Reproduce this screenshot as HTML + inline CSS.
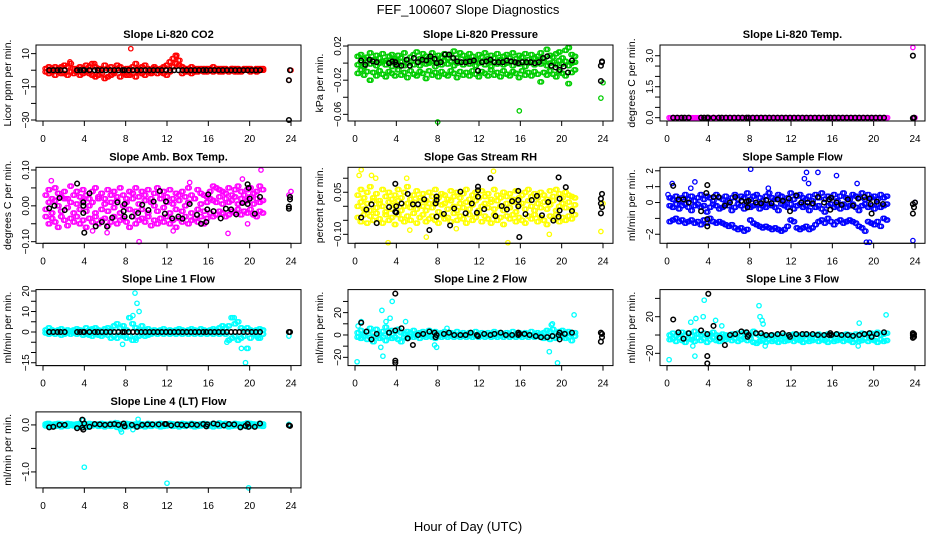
<!DOCTYPE html>
<html><head><meta charset="utf-8"><style>
html,body{margin:0;padding:0;background:#fff}
svg{display:block;font-family:"Liberation Sans",sans-serif}
</style></head><body>
<svg id="chart" width="936" height="540" viewBox="0 0 936 540" xmlns="http://www.w3.org/2000/svg">
<rect width="936" height="540" fill="#fff"/>
<text x="468" y="14" font-size="13" text-anchor="middle">FEF_100607  Slope Diagnostics</text>
<text x="468" y="531" font-size="13" text-anchor="middle">Hour of Day (UTC)</text>
</svg>
<script>
const xTicks=[0,4,8,12,16,20,24];
const T=[0.2,0.5,0.8,1.1,1.4,1.7,2.0,2.3,2.6,2.9,3.2,3.5,3.8,4.1,4.4,4.7,5.0,5.3,5.6,5.9,6.2,6.5,6.8,7.1,7.4,7.7,8.0,8.3,8.6,8.9,9.2,9.5,9.8,10.1,10.4,10.7,11.0,11.3,11.6,11.9,12.2,12.5,12.8,13.1,13.4,13.7,14.0,14.3,14.6,14.9,15.2,15.5,15.8,16.1,16.4,16.7,17.0,17.3,17.6,17.9,18.2,18.5,18.8,19.1,19.4,19.7,20.0,20.3,20.6,20.9,21.2];
const B=[0.6,1.0,1.4,1.7,2.1,3.3,3.6,3.9,4.0,4.5,5.0,5.3,5.7,6.1,6.5,6.9,7.3,7.7,7.9,8.3,8.7,9.1,9.5,9.9,10.3,10.7,11.1,11.5,11.9,12.3,12.7,13.1,13.5,13.9,14.3,14.7,15.1,15.5,15.8,16.2,16.6,17.0,17.4,17.8,18.2,18.6,19.0,19.4,19.8,20.2,20.6,21.0];
const zeroB=[0,0,0,0,0,0,0,0,0,0,0,0,0,0,0,0,0,0,0,0,0,0,0,0,0,0,0,0,0,0,0,0,0,0,0,0,0,0,0,0,0,0,0,0,0,0,0,0,0,0,0,0];
const zeroT=[0,0,0,0,0,0,0,0,0,0,0,0,0,0,0,0,0,0,0,0,0,0,0,0,0,0,0,0,0,0,0,0,0,0,0,0,0,0,0,0,0,0,0,0,0,0,0,0,0,0,0,0,0,0,0,0,0,0,0,0,0,0,0,0,0,0,0,0,0,0,0];

const co2A=[1,2,-1,2,1,-2,3,2,4,1,-1,2,1,3,-2,4,2,-3,1,3,-4,2,-1,3,2,-2,1,-3,2,4,1,-2,3,1,-1,2,0,1,-2,3,5,7,9,3,2,-1,1,2,-1,1,0,1,-1,1,2,0,1,-1,1,0,1,1,-1,0,1,0,1,0,1,0,1];
const co2B=[-1,-2,1,-3,-1,2,-2,-3,-1,-2,1,-3,-2,-1,2,-3,-4,1,-2,-5,1,-3,-2,1,-4,-1,-3,1,-2,-4,-1,2,-3,-1,-2,1,-2,-1,2,-3,-1,2,4,6,-2,1,-1,-2,1,-1,1,-1,1,0,-1,1,-1,1,0,-1,1,-1,1,-1,0,1,-1,0,-1,1,0];
const co2ExX=[8.5,23.8,24.0,12.9,2.6,5.0];
const co2ExY=[13,-6,0,8,5,4];
const co2KtX=[23.8,23.8,23.9];
const co2KtY=[-30,-6,0];

const prA=[0.008,0.01,0.005,0.007,0.012,0.004,0.009,0.006,0.011,0.003,0.008,0.01,0.005,0.009,0.006,0.012,0.004,0.007,0.01,0.013,0.005,0.011,0.008,0.006,0.012,0.004,0.009,0.007,0.011,0.005,0.01,0.014,0.006,0.012,0.009,0.005,0.011,0.008,0.004,0.01,0.007,0.012,0.005,0.009,0.006,0.011,0.004,0.008,0.01,0.006,0.012,0.005,0.009,0.007,0.011,0.004,0.01,0.006,0.008,0.012,0.005,0.016,0.009,0.007,0.011,0.013,0.006,0.015,0.018,0.01,0.008];
const prB=[-0.002,0.001,-0.004,0.002,-0.001,0.003,-0.003,0,0.002,-0.002,0.001,-0.004,0.003,-0.001,0.002,-0.003,0,0.002,-0.002,0.001,-0.003,0.003,-0.001,0,0.002,-0.004,0.001,-0.002,0.003,-0.001,0.002,-0.003,0,0.001,-0.002,0.003,-0.001,0.002,-0.003,0,0.001,-0.002,0.002,-0.004,0.001,-0.001,0.003,-0.002,0,0.002,-0.003,0.001,-0.001,0.002,-0.004,0,0.001,-0.002,0.003,-0.001,0.002,-0.003,0,0.001,-0.002,0.003,-0.001,0.002,-0.003,0,0.001];
const prC=[-0.012,-0.008,-0.014,-0.01,-0.02,-0.011,-0.015,-0.009,-0.013,-0.016,-0.01,-0.012,-0.015,-0.008,-0.014,-0.011,-0.017,-0.009,-0.013,-0.015,-0.01,-0.012,-0.018,-0.009,-0.014,-0.011,-0.016,-0.01,-0.013,-0.015,-0.009,-0.012,-0.017,-0.01,-0.014,-0.011,-0.015,-0.009,-0.013,-0.016,-0.01,-0.012,-0.015,-0.008,-0.014,-0.011,-0.016,-0.009,-0.013,-0.015,-0.01,-0.012,-0.017,-0.009,-0.014,-0.011,-0.015,-0.01,-0.013,-0.022,-0.011,-0.014,-0.009,-0.013,-0.016,-0.01,-0.012,-0.015,-0.024,-0.011,-0.008];
const prExX=[1.4,8.0,15.9,23.8,24.0];
const prExY=[-0.02,-0.069,-0.056,-0.041,-0.023];
const prKY=[0.003,-0.002,0.004,0.002,0.001,0,0.002,0.001,-0.002,-0.003,0.004,-0.003,0.006,0.001,0.004,0.003,0.008,0.005,0,0.001,0.01,0.01,0.006,0.002,0.001,0.001,0.002,0.003,-0.009,0.001,0.002,0.004,0.001,0.001,0.001,0.003,0.002,0.001,0,0.001,0.001,0.001,0,0.001,0.006,0.008,-0.003,-0.005,-0.008,-0.004,-0.011,0.003];
const prKtX=[23.8,23.9,23.8,23.9];
const prKtY=[-0.003,0.002,-0.021,0.001];

const tpExX=[23.8,24.0];
const tpExY=[3.4,0];
const tpKtX=[23.8,23.8,23.9];
const tpKtY=[3.0,-0.02,0];

const abA=[0.03,0.045,0.02,0.05,0.035,0.025,0.04,0.02,0.055,0.03,0.04,0.025,0.045,0.03,0.02,0.04,0.05,0.025,0.035,0.02,0.045,0.03,0.04,0.025,0.05,0.03,0.02,0.04,0.035,0.05,0.025,0.04,0.03,0.045,0.02,0.035,0.05,0.03,0.04,0.025,0.045,0.02,0.035,0.03,0.04,0.025,0.05,0.03,0.02,0.045,0.035,0.03,0.025,0.04,0.055,0.05,0.045,0.04,0.035,0.05,0.03,0.045,0.055,0.04,0.03,0.045,0.05,0.035,0.04,0.055,0.045];
const abB=[-0.01,0.01,-0.02,0.015,0,-0.015,0.02,-0.005,0.01,-0.02,0.005,-0.01,0.015,-0.015,0,0.01,-0.02,0.02,-0.01,0.005,-0.015,0.01,-0.005,0.015,-0.02,0,0.01,-0.01,0.02,-0.015,0.005,-0.01,0.015,-0.02,0.01,0,-0.015,0.02,-0.005,0.01,-0.02,0.005,-0.01,0.015,-0.015,0,0.01,-0.02,0.02,-0.01,0.005,-0.015,0.01,0.02,0.015,0.01,0.025,0.005,0.02,0.01,0.015,0.025,0.005,0.02,0.01,0.015,0.025,0.005,0.02,0.01,0.015];
const abC=[-0.03,-0.05,-0.035,-0.045,-0.06,-0.03,-0.04,-0.055,-0.035,-0.045,-0.03,-0.05,-0.04,-0.06,-0.035,-0.045,-0.03,-0.05,-0.04,-0.035,-0.055,-0.045,-0.03,-0.05,-0.04,-0.035,-0.045,-0.06,-0.03,-0.05,-0.04,-0.035,-0.045,-0.03,-0.055,-0.04,-0.05,-0.035,-0.045,-0.03,-0.05,-0.04,-0.06,-0.035,-0.045,-0.03,-0.05,-0.04,-0.035,-0.045,-0.03,-0.05,-0.035,-0.02,-0.03,-0.025,-0.015,-0.02,-0.03,-0.025,-0.015,-0.02,-0.01,-0.025,-0.015,-0.02,-0.01,-0.025,-0.03,-0.015,-0.02];
const abExX=[0.8,4.8,6.2,9.3,12.6,14.2,17.9,19.3,19.8,21.1,23.8,24.0];
const abExY=[0.07,-0.07,-0.075,-0.1,-0.07,0.065,-0.077,0.075,-0.05,0.1,0.03,0.04];
const abKX=[0.6,1.1,1.6,2.1,3.3,3.9,3.9,3.9,4.0,4.5,5.1,5.7,6.2,6.7,7.2,7.8,7.9,7.9,8.6,9.2,9.6,10.2,10.7,11.3,11.8,11.9,12.5,13.1,13.5,14.2,14.9,15.3,15.8,15.9,16.0,16.5,17.2,17.7,18.2,18.7,19.3,19.8,19.8,19.9,20.0,20.5,21.0,23.8,23.8,23.9,23.9];
const abKY=[-0.007,0,0.022,-0.012,0.062,0.01,0,-0.02,-0.075,0.035,-0.057,-0.045,-0.058,-0.033,0.01,-0.015,0.005,-0.03,-0.03,-0.02,0.003,-0.012,0.012,0.041,-0.022,0.012,-0.035,-0.03,-0.036,0.005,-0.025,-0.05,-0.045,-0.01,0.032,-0.015,-0.035,-0.008,-0.01,-0.024,0.008,0.005,0.06,0.05,0.02,-0.022,0.025,-0.008,-0.002,0.025,0.018];

const rhA=[0.04,0.06,0.03,0.05,0.07,0.03,0.045,0.02,0.06,0.035,0.05,0.025,0.04,0.06,0.03,0.05,0.07,0.025,0.04,0.055,0.03,0.045,0.02,0.05,0.035,0.06,0.03,0.045,0.04,0.025,0.055,0.035,0.05,0.03,0.045,0.06,0.025,0.04,0.05,0.03,0.055,0.035,0.045,0.025,0.06,0.04,0.03,0.05,0.035,0.045,0.025,0.055,0.03,0.04,0.05,0.06,0.035,0.045,0.03,0.05,0.04,0.025,0.055,0.035,0.06,0.045,0.03,0.05,0.04,0.035,0.03];
const rhB=[0,0.015,-0.01,0.01,-0.015,0.02,-0.005,0.01,0,-0.02,0.015,-0.01,0.005,0.02,-0.015,0,0.01,-0.005,0.015,-0.01,0.02,0,-0.015,0.01,-0.005,0.015,-0.02,0.005,0.01,-0.01,0.02,0,-0.015,0.01,-0.005,0.015,-0.01,0.005,0.02,-0.015,0,0.01,-0.005,0.015,-0.01,0.02,0,-0.015,0.01,-0.005,0.015,-0.02,0.005,0.01,-0.01,0.02,0,-0.015,0.01,-0.005,0.015,-0.01,0.005,0.02,-0.015,0,0.01,-0.005,0.015,-0.01,0.005];
const rhC=[-0.04,-0.055,-0.03,-0.06,-0.035,-0.05,-0.025,-0.045,-0.06,-0.03,-0.05,-0.04,-0.065,-0.03,-0.045,-0.055,-0.035,-0.05,-0.025,-0.06,-0.04,-0.03,-0.055,-0.045,-0.035,-0.05,-0.06,-0.03,-0.045,-0.04,-0.055,-0.025,-0.05,-0.035,-0.045,-0.06,-0.03,-0.05,-0.04,-0.025,-0.055,-0.035,-0.045,-0.06,-0.03,-0.05,-0.04,-0.065,-0.035,-0.045,-0.03,-0.055,-0.04,-0.05,-0.06,-0.035,-0.045,-0.03,-0.055,-0.04,-0.05,-0.065,-0.035,-0.045,-0.03,-0.055,-0.04,-0.05,-0.035,-0.045,-0.03];
const rhExX=[0.6,1.6,3.2,5.3,6.9,13.4,14.8,18.8,23.8,24.0,0.4,5.0,9.8,2.0];
const rhExY=[0.13,0.11,-0.13,-0.085,-0.11,0.125,-0.13,-0.1,-0.09,0.01,0.11,0.1,-0.08,0.1];
const rhKX=[0.6,1.1,1.6,2.1,3.3,3.9,3.9,4.0,4.0,4.5,5.1,5.6,6.1,6.7,7.2,7.8,7.9,7.9,7.9,8.6,9.2,9.6,10.2,10.7,11.3,11.8,11.9,11.9,11.9,12.5,13.1,13.6,14.2,14.7,15.2,15.8,15.8,15.8,15.9,16.5,17.1,17.6,18.1,18.7,19.2,19.7,19.8,19.8,19.7,20.4,21.0,23.8,23.8,23.9,23.8,23.9];
const rhKY=[-0.04,-0.012,0.007,-0.06,-0.003,0.08,-0.02,-0.022,0,0.01,0.044,0.007,0.007,0.025,-0.085,0.01,0.035,0.022,-0.037,-0.027,-0.068,-0.008,0.052,-0.025,0.01,-0.023,0.057,0.07,0.034,-0.01,0.1,-0.035,0.001,-0.011,0.018,0.055,0.022,0,-0.11,-0.028,0.022,0.037,-0.032,0.015,-0.051,0.103,0.027,-0.015,-0.037,0.068,-0.017,0.027,0.01,-0.003,-0.025,0.044];

const sfA=[0.3,0.2,0.4,0.1,0.3,0.5,0.2,0.4,0.1,0.3,0.5,0.2,0.4,0.3,0.1,0.5,0.3,0.2,0.4,0.1,0.3,0.5,0.2,0.4,0.3,0.6,0.2,0.4,0.5,0.3,0.1,0.4,0.6,0.3,0.2,0.5,0.4,0.1,0.3,0.6,0.2,0.4,0.5,0.3,0.2,0.4,0.1,0.5,0.3,0.6,0.2,0.4,0.3,0.5,0.1,0.4,0.6,0.3,0.2,0.5,0.4,0.3,0.6,0.2,0.5,0.3,0.4,0.2,0.5,0.3,0.4];
const sfB=[-0.2,-0.3,-0.1,-0.4,-0.2,-0.1,-0.3,-0.5,-0.2,-0.1,-0.3,-0.2,-0.6,-0.3,-0.1,-0.2,-0.4,-0.3,-0.1,-0.2,-0.5,-0.3,-0.1,-0.2,-0.4,-0.1,-0.3,-0.2,-0.1,-0.4,-0.2,-0.3,-0.1,-0.2,-0.3,-0.5,-0.1,-0.2,-0.3,-0.1,-0.4,-0.2,-0.1,-0.3,-0.2,-0.5,-0.1,-0.3,-0.2,-0.4,-0.6,-0.2,-0.1,-0.3,-0.2,-0.4,-0.1,-0.3,-0.2,-0.1,-0.3,-0.5,-0.2,-0.1,-0.3,-0.2,-0.4,-0.1,-0.3,-0.2,-0.1];
const sfC=[-1.2,-1.1,-1.0,-1.2,-1.1,-1.3,-1.2,-1.1,-1.3,-1.2,-1.4,-1.1,-1.3,-1.0,-1.2,-1.3,-1.2,-1.3,-1.4,-1.5,-1.4,-1.6,-1.7,-1.6,-1.8,-1.7,-1.1,-1.3,-1.4,-1.5,-1.6,-1.5,-1.6,-1.7,-1.6,-1.7,-1.8,-1.7,-1.5,-1.1,-1.2,-1.6,-1.7,-1.6,-1.5,-1.7,-1.6,-1.4,-1.2,-1.1,-1.3,-1.0,-1.2,-1.4,-1.2,-1.1,-1.3,-1.2,-1.1,-1.2,-1.3,-1.5,-1.6,-1.8,-1.2,-1.3,-1.4,-1.2,-1.5,-1.0,-1.1];
const sfExX=[0.1,0.5,2.7,2.3,8.1,9.8,13.3,13.5,13.7,14.6,16.4,18.4,19.3,19.6,23.8,24.0];
const sfExY=[0.5,1.2,1.3,0.9,2.1,0.9,1.5,1.9,1.2,1.9,1.7,1.2,-2.5,-2.5,-2.4,0];
const sfKX=[0.6,1.1,1.6,2.1,3.3,3.8,3.9,3.9,3.9,4.5,5.0,5.6,6.1,6.6,7.2,7.7,7.8,7.9,8.6,9.1,9.6,10.1,10.7,11.2,11.8,11.9,12.5,13.0,13.6,14.1,14.6,15.2,15.7,15.8,15.9,16.4,16.9,17.5,18.0,18.5,19.1,19.6,19.7,19.8,20.3,20.9,23.8,23.8,23.9,24.0];
const sfKY=[1.05,0.2,0.2,0,-0.55,0.6,1.1,-1.05,-1.5,0.35,0.35,-0.2,0,0.35,0.1,0.05,-0.3,0.1,0,-0.05,0.15,-0.05,0.2,0.1,0.25,-0.55,0.45,0,0,-0.05,0.35,0,0.2,-0.45,0.3,0,-0.15,0.2,-0.2,0.25,0.35,0.25,-0.1,-0.7,0.05,-0.1,-0.1,-0.7,-0.3,0];

const l1A=[1,2,1,0.5,1,1.5,0.5,1,0.5,1,1.5,1,0.5,2,1,1.5,2,1,0.5,1.5,2,1,3,4,2,3,1,7,4,2,1,3,1,1.5,0.5,1,0.5,1,1.5,0.5,1,0.5,1,1.5,1,0.5,1,1.5,1,0.5,1.5,1,0.5,1,1.5,1,2,3,2,3,7,4,5,2,1,2,1,0.5,1,1.5,1];
const l1B=[-0.5,-1,-0.5,-1,-0.5,-1.5,-1,-0.5,-1,-0.5,-1,-0.5,-1.5,-1,-1.5,-2,-1,-1.5,-2,-1,-1.5,-3,-2,-3,-1.5,-2,-3,-2,-4,-3,-2,-1,-2,-1.5,-1,-0.5,-1,-0.5,-1,-0.5,-1,-0.5,-1,-0.5,-1,-0.5,-1,-0.5,-1,-0.5,-1,-0.5,-1,-0.5,-1,-0.5,-1,-0.5,-1,-4,-3,-2,-4,-3,-2,-8,-3,-1,-2,-3,-1];
const l1ExX=[7.7,8.9,9.1,9.3,8.7,9.0,19.6,19.2,17.8,18.5,20.8,23.8];
const l1ExY=[-6,19,14,10,8,-4,-15,-8,-5,7,-3,-2];
const l1KtX=[23.8,23.9];
const l1KtY=[0,0];

const l2A=[2,4,1,3,6,2,5,1,3,7,2,4,3,5,2,1,3,2,4,1,2,3,1,4,2,3,1,2,3,1,2,1,3,1,2,1,2,1,3,1,2,1,2,1,3,1,2,1,2,1,3,1,2,1,2,1,3,1,2,1,2,4,3,5,2,3,4,2,3,1,2];
const l2B=[-2,-3,-1,-4,-2,-6,-1,-3,-2,-5,-1,-3,-2,-4,-6,-2,-3,-1,-2,-1,-3,-1,-2,-1,-2,-3,-1,-2,-1,-2,-1,-2,-1,-2,-1,-2,-1,-2,-1,-2,-1,-2,-1,-2,-1,-2,-1,-2,-1,-2,-1,-2,-1,-2,-1,-2,-1,-2,-1,-2,-3,-2,-4,-1,-3,-2,-1,-3,-2,-5,-1];
const l2ExX=[0.2,0.6,2.5,2.6,2.7,3.0,3.4,3.6,4.9,7.7,7.9,8.9,18.8,19.0,19.1,19.6,21.2,0.3];
const l2ExY=[-24,12,-11,22,-19,12,15,30,12,-9,-11,6,-15,9,10,-25,18,8];
const l2KX=[0.6,1.1,1.6,2.1,3.3,3.9,3.9,3.9,3.9,4.5,5.1,5.6,6.1,6.6,7.2,7.7,7.8,7.9,8.6,9.1,9.6,10.2,10.7,11.2,11.8,11.9,12.5,13.1,13.5,14.1,14.6,15.2,15.8,15.8,15.9,16.4,16.9,17.5,18.0,18.6,19.1,19.7,19.8,19.8,20.3,21.0,23.8,23.9,23.8,23.9];
const l2KY=[11,3,-4,1,2,4,-23,-25,37,6,-3,-9,0,1,3,2,-2,0,1,2,0,0,0,2,0,-1,1,0,1,2,0,0,0,2,1,1,0,-1,-2,-2,-1,0,2,-4,1,2,2,-2,-6,1];

const l3A=[0,2,-1,1,3,0,2,-1,4,1,0,2,-1,1,3,0,-1,1,0,-2,1,0,2,-1,3,1,0,4,1,-1,0,-2,-1,0,-1,0,-2,0,-1,0,1,-1,0,-1,1,0,-1,0,1,-1,0,1,-1,0,1,-1,0,1,0,-1,1,0,2,1,0,2,1,3,0,1,2];
const l3B=[-5,-4,-7,-3,-6,-8,-4,-5,-7,-3,-6,-4,-8,-5,-3,-6,-7,-4,-5,-3,-6,-4,-7,-5,-3,-6,-4,-8,-9,-7,-6,-8,-5,-7,-6,-8,-5,-7,-6,-4,-7,-5,-6,-8,-5,-7,-6,-4,-7,-5,-6,-8,-5,-7,-6,-4,-7,-5,-6,-8,-5,-7,-6,-4,-7,-5,-6,-8,-5,-7,-6];
const l3ExX=[0.2,2.5,2.7,2.8,3.5,3.6,4.7,5.3,2.3,8.9,9.0,9.2,9.3,18.6,18.5,21.2,9.5];
const l3ExY=[-27,-12,-23,18,20,38,16,10,14,32,20,16,12,13,-12,22,-12];
const l3KX=[0.6,1.1,1.6,2.1,3.3,3.9,3.9,3.9,4.0,4.5,5.1,5.6,6.1,6.6,7.2,7.7,7.8,7.9,8.6,9.1,9.6,10.1,10.7,11.2,11.8,11.9,12.5,13.1,13.5,14.1,14.6,15.2,15.7,15.8,15.9,16.4,16.9,17.5,18.0,18.6,19.1,19.6,19.8,20.3,21.0,23.8,23.9,23.8,23.9,23.8];
const l3KY=[17,3,-4,2,5,1,-23,-31,45,10,-3,-11,0,1,4,3,-2,0,2,2,0,0,1,2,0,-2,1,1,1,1,0,0,0,2,0,1,0,0,-1,0,1,2,-2,1,3,2,-2,-3,1,0];

const l4A=[0.02,0.03,0.01,0.02,0.03,0.02,0.01,0.03,0.02,0.01,0.02,0.03,0.02,0.01,0.03,0.02,0.01,0.02,0.03,0.02,0.01,0.03,0.02,0.04,0.02,0.01,0.03,0.02,0.01,0.02,0.03,0.02,0.01,0.03,0.02,0.01,0.02,0.03,0.02,0.01,0.03,0.02,0.01,0.02,0.03,0.02,0.01,0.03,0.02,0.01,0.02,0.03,0.02,0.01,0.03,0.02,0.04,0.02,0.03,0.02,0.01,0.03,0.02,0.01,0.02,0.04,0.03,0.02,0.01,0.03,0.02];
const l4B=[-0.02,-0.03,-0.01,-0.03,-0.02,-0.04,-0.02,-0.03,-0.01,-0.02,-0.04,-0.03,-0.02,-0.05,-0.03,-0.02,-0.01,-0.03,-0.02,-0.04,-0.02,-0.03,-0.01,-0.05,-0.03,-0.02,-0.04,-0.03,-0.02,-0.01,-0.03,-0.02,-0.04,-0.02,-0.03,-0.01,-0.02,-0.04,-0.03,-0.02,-0.01,-0.03,-0.02,-0.04,-0.02,-0.03,-0.01,-0.02,-0.04,-0.03,-0.02,-0.01,-0.03,-0.02,-0.04,-0.02,-0.03,-0.01,-0.02,-0.04,-0.03,-0.02,-0.01,-0.03,-0.02,-0.04,-0.02,-0.03,-0.01,-0.02,-0.03];
const l4ExX=[0.4,3.9,7.5,7.6,8.7,9.2,4.0,12.0,19.9,23.8,7.0];
const l4ExY=[0.03,0.1,-0.1,-0.15,-0.1,0.12,-0.9,-1.24,-1.34,0.01,0.05];
const l4KX=[0.6,1.0,1.6,2.1,3.3,3.8,3.8,3.9,4.0,4.5,5.0,5.5,6.0,6.5,6.9,7.3,7.8,7.9,8.6,9.1,9.6,10.1,10.6,11.2,11.8,11.9,12.4,13.0,13.4,13.9,14.4,14.9,15.5,15.8,15.9,16.5,16.9,17.5,18.0,18.5,19.1,19.6,19.8,19.9,20.5,21.0,23.8,23.9];
const l4KY=[-0.05,-0.04,0,0,-0.07,-0.06,0.11,-0.1,0.03,-0.04,0.02,0.01,0,0.01,0.02,0,0.03,-0.03,0,-0.04,0,0.01,0.01,0.01,0.02,0.02,-0.01,0.01,0,-0.01,0.01,0,0.02,-0.03,0.01,0.03,0.01,-0.01,0.02,0.01,-0.05,-0.02,0.02,-0.04,-0.04,0.03,-0.01,-0.02];

const t1=[10,0,-10,-20,-30], t1L=["10","","−10","","−30"];
const t2=[0.02,0,-0.02,-0.04,-0.06], t2L=["0.02","","−0.02","","−0.06"];
const t3=[0,0.5,1,1.5,2,2.5,3], t3L=["0.0","","","1.5","","","3.0"];
const t4=[0.1,0.05,0,-0.05,-0.1], t4L=["0.10","","0.00","","−0.10"];
const t5=[0.1,0.05,0,-0.05,-0.1], t5L=["","0.05","","","−0.10"];
const t6=[2,1,0,-1,-2], t6L=["2","1","0","","−2"];
const t7=[20,15,10,5,0,-5,-10,-15], t7L=["20","","10","","0","","","−15"];
const t8=[30,20,10,0,-10,-20], t8L=["","20","","0","","−20"];
const t9=[40,20,0,-20], t9L=["","20","","−20"];
const t10=[0,-0.5,-1], t10L=["0.0","","−1.0"];

const panels=[
 {name:"co2",title:"Slope Li-820 CO2",ylab:"Licor ppm per min.",c:0,r:0,y0:-30.6,y1:15.2,ticks:t1,tl:t1L,col:"#ff0000",
  colored:[[T,co2A],[T,co2B],[co2ExX,co2ExY]],black:[[B,zeroB],[co2KtX,co2KtY]]},
 {name:"pressure",title:"Slope Li-820 Pressure",ylab:"kPa per min.",c:1,r:0,y0:-0.0678,y1:0.0212,ticks:t2,tl:t2L,col:"#00cd00",
  colored:[[T,prA],[T,prB],[T,prC],[prExX,prExY]],black:[[B,prKY],[prKtX,prKtY]]},
 {name:"temp",title:"Slope Li-820 Temp.",ylab:"degrees C per min.",c:2,r:0,y0:-0.16,y1:3.52,ticks:t3,tl:t3L,col:"#ff00ff",
  colored:[[T,zeroT],[tpExX,tpExY]],black:[[B,zeroB],[tpKtX,tpKtY]]},
 {name:"amb-box",title:"Slope Amb. Box Temp.",ylab:"degrees C per min.",c:0,r:1,y0:-0.1045,y1:0.1075,ticks:t4,tl:t4L,col:"#ff00ff",
  colored:[[T,abA],[T,abB],[T,abC],[abExX,abExY]],black:[[abKX,abKY]]},
 {name:"gas-rh",title:"Slope Gas Stream RH",ylab:"percent per min.",c:1,r:1,y0:-0.132,y1:0.139,ticks:t5,tl:t5L,col:"#ffff00",
  colored:[[T,rhA],[T,rhB],[T,rhC],[rhExX,rhExY]],black:[[rhKX,rhKY]]},
 {name:"sample-flow",title:"Slope Sample Flow",ylab:"ml/min per min.",c:2,r:1,y0:-2.57,y1:2.22,ticks:t6,tl:t6L,col:"#0000ff",
  colored:[[T,sfA],[T,sfB],[T,sfC],[sfExX,sfExY]],black:[[sfKX,sfKY]]},
 {name:"line1",title:"Slope Line 1 Flow",ylab:"ml/min per min.",c:0,r:2,y0:-16.4,y1:20.7,ticks:t7,tl:t7L,col:"#00ffff",
  colored:[[T,l1A],[T,l1B],[l1ExX,l1ExY]],black:[[B,zeroB],[l1KtX,l1KtY]]},
 {name:"line2",title:"Slope Line 2 Flow",ylab:"ml/min per min.",c:1,r:2,y0:-27.4,y1:40.6,ticks:t8,tl:t8L,col:"#00ffff",
  colored:[[T,l2A],[T,l2B],[l2ExX,l2ExY]],black:[[l2KX,l2KY]]},
 {name:"line3",title:"Slope Line 3 Flow",ylab:"ml/min per min.",c:2,r:2,y0:-33.4,y1:49.6,ticks:t9,tl:t9L,col:"#00ffff",
  colored:[[T,l3A],[T,l3B],[l3ExX,l3ExY]],black:[[l3KX,l3KY]]},
 {name:"line4",title:"Slope Line 4 (LT) Flow",ylab:"ml/min per min.",c:0,r:3,y0:-1.34,y1:0.277,ticks:t10,tl:t10L,col:"#00ffff",
  colored:[[T,l4A],[T,l4B],[l4ExX,l4ExY]],black:[[l4KX,l4KY]]}
];

const svg=document.getElementById('chart');
const NS="http://www.w3.org/2000/svg";
function mk(tag,attrs,parent){const e=document.createElementNS(NS,tag);for(const k in attrs)e.setAttribute(k,attrs[k]);parent.appendChild(e);return e;}

panels.forEach(p=>{
  const L=36+312*p.c, R=L+265, top=45+122.3*p.r, H=76, bot=top+H;
  const xs=h=>43+312*p.c+h*(248/24);
  const ys=v=>bot-(v-p.y0)/(p.y1-p.y0)*H;
  const g=mk('g',{},svg);
  
  
  const ttl=mk('text',{x:(L+R)/2,y:top-7,'font-size':11,'font-weight':'bold','text-anchor':'middle'},g);
  ttl.textContent=p.title;
  
  
  const yl=mk('text',{transform:`translate(${L-25},${top+H/2}) rotate(-90)`,'font-size':10.5,'text-anchor':'middle'},g);
  yl.textContent=p.ylab;
  
  
  const cg=mk('g',{fill:'none',stroke:p.col,'stroke-width':1.3},g);
  
  
  p.colored.forEach(([X,Y])=>{
    const n=Math.min(X.length,Y.length);
    const passes=(X===T)?[0,0.15]:[0];
    passes.forEach(off=>{for(let i=0;i<n;i++){
      const c=mk('circle',{cx:xs(X[i]+off).toFixed(1),cy:ys(Y[i]).toFixed(1),r:2.2},cg);
      
      }});
  });
  const kg=mk('g',{fill:'none',stroke:'#000','stroke-width':1.5},g);
  
  
  p.black.forEach(([X,Y])=>{const n=Math.min(X.length,Y.length);for(let i=0;i<n;i++){
    const c=mk('circle',{cx:xs(X[i]).toFixed(1),cy:ys(Y[i]).toFixed(1),r:2.3},kg);
    
    }});
  const bx=mk('rect',{x:L,y:top,width:R-L,height:H,fill:'none',stroke:'#000','stroke-width':1},g);
  
  
  const xa=mk('g',{},g);
  
  
  mk('line',{x1:xs(0),x2:xs(24),y1:bot,y2:bot,stroke:'#000'},xa);
  xTicks.forEach(t=>{mk('line',{x1:xs(t),x2:xs(t),y1:bot,y2:bot+5,stroke:'#000'},xa);
    const tx=mk('text',{x:xs(t),y:bot+21,'font-size':10,'text-anchor':'middle'},xa);tx.textContent=t;
    
    });
  const ya=mk('g',{},g);
  
  
  mk('line',{x1:L,x2:L,y1:ys(p.ticks[0]),y2:ys(p.ticks[p.ticks.length-1]),stroke:'#000'},ya);
  p.ticks.forEach((t,i)=>{const y=ys(t);mk('line',{x1:L-5,x2:L,y1:y,y2:y,stroke:'#000'},ya);
    if(p.tl[i]){const tx=mk('text',{transform:`translate(${L-7},${y}) rotate(-90)`,'font-size':10,'text-anchor':'middle'},ya);tx.textContent=p.tl[i];
    
    }});
});
</script>
</body></html>
